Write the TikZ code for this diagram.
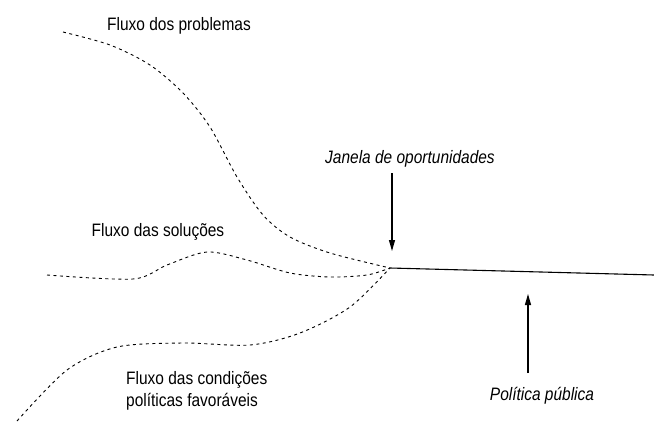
\documentclass[tikz,border=0pt]{standalone}
\usepackage{fontspec}
\setmainfont[FakeStretch=0.86]{Liberation Sans}
\usetikzlibrary{arrows.meta}
\tikzset{flow/.style={line width=0.9pt, dash pattern=on 3pt off 3.5pt}}
\tikzset{policy/.style={line width=1.1pt}}
\tikzset{pointer/.style={line width=1.1pt, -{Triangle[length=11pt, width=6pt]}}}
\tikzset{flowtext/.style={font=\fontsize{18}{22}\selectfont, align=left, inner sep=0pt}}
\tikzset{windowtext/.style={flowtext, font=\fontsize{18}{22}\selectfont\itshape}}

\begin{document}
\begin{tikzpicture}[x=1pt, y=-1pt]
\useasboundingbox (0,0) rectangle (654,421);
\coordinate (m) at (390,268);
\coordinate (e) at (654,275);
\node[flowtext] (prob) at (179,26) {Fluxo dos problemas};
\node[flowtext] (sol) at (158,232) {Fluxo das soluções};
\node[flowtext, anchor=west] (cond) at (126,391) {Fluxo das condições\\políticas favoráveis};
\node[windowtext] (janela) at (410,159) {Janela de oportunidades};
\node[windowtext] (pub) at (542,396) {Política pública};
\draw[flow] plot[smooth] coordinates {(63,32) (110,45) (150,65) (183,93) (210,127) (237,177) (263,215) (290,237) (330,253) (m)};
\draw[flow] plot[smooth] coordinates {(47,275) (133,279) (167,265) (207,252) (247,260) (290,273) (330,277) (367,275) (m)};
\draw[flow] plot[smooth] coordinates {(17,421) (67,370) (117,347) (183,343) (250,345) (300,333) (350,307) (m)};
\draw[policy] (m) -- (e);
\coordinate (wa) at (392,173);
\coordinate (wb) at (392,251);
\draw[pointer] (wa) -- (wb);
\coordinate (pa) at (528,373);
\coordinate (pb) at (528,294);
\draw[pointer] (pa) -- (pb);
\end{tikzpicture}
\end{document}
